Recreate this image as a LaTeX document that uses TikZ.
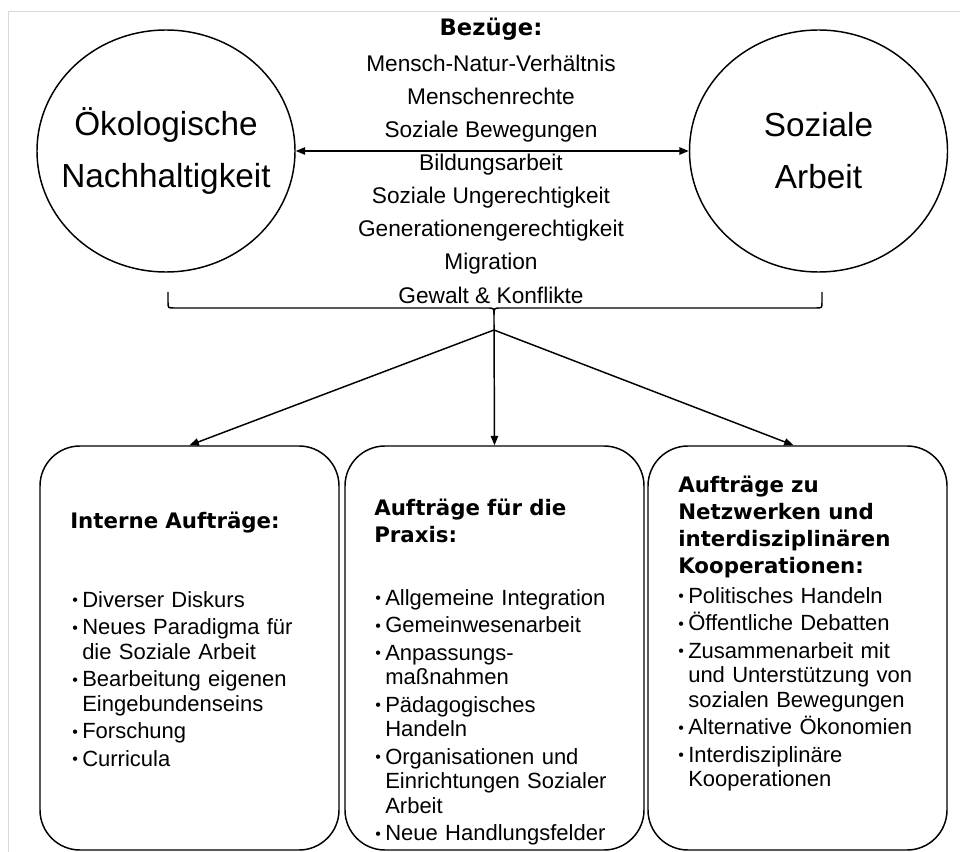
\documentclass[tikz,border=0pt]{standalone}
\usepackage{fontspec}
\setmainfont{Liberation Sans}
\newfontfamily\titelfont{DejaVu Sans}
\usepackage{tikz}
\usetikzlibrary{
    arrows.meta,
    positioning,
    shapes.geometric
}
\newcommand{\punktmarke}{\hangindent=7.5pt\hangafter=1\noindent\makebox[7.5pt][l]{\raisebox{1pt}{\fontsize{12}{12}\selectfont\textbullet}}}
\newcommand{\bpunkt}{\par\punktmarke}

\tikzset{
    kreis/.style={ellipse, draw, line width=1.1pt, minimum width=193.5pt, minimum height=181.5pt, inner sep=0pt},
    kreistext/.style={align=center, inner sep=0pt, font=\fontsize{25}{39}\selectfont},
    bezug/.style={anchor=base, inner sep=0pt, font=\fontsize{17}{20}\selectfont},
    auftrag/.style={draw, line width=1.1pt, rounded corners=30pt, minimum width=224.25pt, minimum height=303pt},
    titel/.style={anchor=base west, inner sep=0pt, text width=205pt, align=left,
        font=\titelfont\bfseries\fontsize{16}{20.25}\selectfont},
    liste/.style={anchor=base west, inner sep=0pt, text width=190pt, align=left,
        font=\fontsize{16.5}{18.4}\selectfont},
    pfeil/.style={line width=1.1pt, -{Triangle[length=7pt,width=5.5pt]}}
}

\begin{document}
\begin{tikzpicture}[x=0.75pt, y=-0.75pt]
    \useasboundingbox (0,0) rectangle (960,852);
    % light frame of the figure
    \draw[gray!30, line width=0.75pt] (8,852) -- (8,12) -- (960,12);

    % the two circles
    \node[kreis] (oeko) at (166,151) {};
    \node[kreistext] (oekotext) at (oeko.center) {Ökologische\\Nachhaltigkeit};
    \node[kreis] (sozial) at (818.5,151) {};
    \node[kreistext] (sozialtext) at (sozial.center) {Soziale\\Arbeit};
    \draw[line width=1.1pt, {Triangle[length=7pt,width=5.5pt]}-{Triangle[length=7pt,width=5.5pt]}] (oeko) -- (sozial);

    % Bezuege list
    \node[anchor=base, inner sep=0pt, font=\titelfont\bfseries\fontsize{17}{20}\selectfont] (bezuege) at (491,36) {Bezüge:};
    \foreach \zeile [count=\i] in {Mensch-Natur-Verhältnis, Menschenrechte, Soziale Bewegungen,
        Bildungsarbeit, Soziale Ungerechtigkeit, Generationengerechtigkeit, Migration, Gewalt \& Konflikte}
        \node[bezug] (bezug\i) at (491,39+33*\i) {\zeile};

    % brace under the list
    \draw[line width=1.1pt] (168,292) -- (168,302) .. controls (168,308) .. (174,308) -- (487,308)
        .. controls (494,308) .. (494,315) -- (494,322) coordinate (spitze);
    \draw[line width=1.1pt] (494,315) .. controls (494,308) .. (501,308) -- (816,308)
        .. controls (822,308) .. (822,302) -- (822,292);
    \coordinate (teilung) at (494,330);

    % the three boxes
    \node[auftrag] (interne) at (189.5,648) {};
    \node[auftrag] (praxis) at (494.5,648) {};
    \node[auftrag] (netzwerk) at (797.5,648) {};

    \draw[pfeil] (teilung) -- (interne.north);
    \draw[pfeil] (spitze) -- (praxis.north);
    \draw[pfeil] (teilung) -- ([xshift=-3pt]netzwerk.north);

    % texts in the boxes
    \node[titel] (internetitel) at (70,528) {Interne Aufträge:};
    \node[liste] (interneliste) at (72,607) {\setlength{\parskip}{2.25pt}%
        \punktmarke Diverser Diskurs
        \bpunkt Neues Paradigma für\newline die Soziale Arbeit
        \bpunkt Bearbeitung eigenen\newline Eingebundenseins
        \bpunkt Forschung
        \bpunkt Curricula\par};

    \node[titel] (praxistitel) at (374,515) {Aufträge für die\\Praxis:};
    \node[liste] (praxisliste) at (375,605) {\setlength{\parskip}{2.25pt}%
        \punktmarke Allgemeine Integration
        \bpunkt Gemeinwesenarbeit
        \bpunkt Anpassungs-\newline maßnahmen
        \bpunkt Pädagogisches\newline Handeln
        \bpunkt Organisationen und\newline Einrichtungen Sozialer\newline Arbeit
        \bpunkt Neue Handlungsfelder\par};

    \node[titel] (netzwerktitel) at (678,492) {Aufträge zu\\Netzwerken und\\interdisziplinären\\Kooperationen:};
    \node[liste] (netzwerkliste) at (678,603) {\setlength{\parskip}{2.25pt}%
        \punktmarke Politisches Handeln
        \bpunkt Öffentliche Debatten
        \bpunkt Zusammenarbeit mit\newline und Unterstützung von\newline sozialen Bewegungen
        \bpunkt Alternative Ökonomien
        \bpunkt Interdisziplinäre\newline Kooperationen\par};
\end{tikzpicture}
\end{document}
